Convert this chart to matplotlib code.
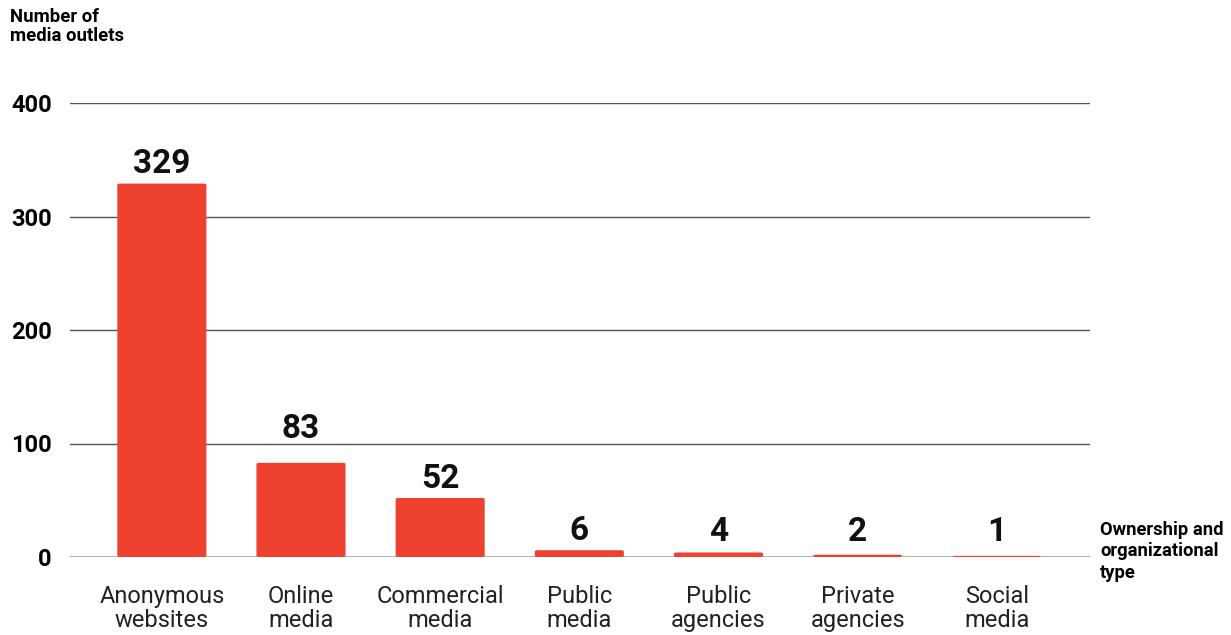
import matplotlib
matplotlib.use("Agg")
import matplotlib.pyplot as plt
from matplotlib.patches import FancyBboxPatch

plt.rcParams["font.family"] = ["Roboto", "DejaVu Sans"]

categorias = ["Anonymous\nwebsites", "Online\nmedia", "Commercial\nmedia", "Public\nmedia",
              "Public\nagencies", "Private\nagencies", "Social\nmedia"]
valores = [329, 83, 52, 6, 4, 2, 1]
yticks = [0, 100, 200, 300, 400]

ROJO = "#ee4130"

fig = plt.figure(figsize=(12.31, 6.35), dpi=100)
ax = fig.add_axes([70 / 1231, 78 / 635, 1020 / 1231, 454 / 635])

ancho = 0.64
x = list(range(len(categorias)))
for xi, v in zip(x, valores):
    # barras con esquinas levemente redondeadas
    ax.add_patch(FancyBboxPatch((xi - ancho / 2, 0), ancho, v,
                                boxstyle="round,pad=0,rounding_size=0.02",
                                mutation_aspect=60, fc=ROJO, ec="none", zorder=3))
    # etiqueta sobre la barra; si queda pisando una linea de la grilla, va arriba de ella
    y_lab = max(v + 3, 8)
    for t in yticks[1:]:
        if v < t < y_lab + 22:
            y_lab = t - 1
    ax.text(xi, y_lab, str(v), ha="center", va="bottom", fontsize=24,
            fontweight="bold", color="#111111", zorder=4)

ax.set_xlim(-0.66, 6.67)
ax.set_ylim(0, 400)
for t in yticks[1:]:
    ax.axhline(t, color="#555555", lw=1.0, zorder=1)
ax.axhline(0, color="#aaaaaa", lw=2.0, zorder=2)

ax.set_yticks(yticks)
ax.set_yticklabels([str(t) for t in yticks], fontsize=17, fontweight="bold")
ax.set_xticks(x)
ax.set_xticklabels(categorias, fontsize=17, color="#222222", linespacing=1.06)
ax.tick_params(axis="both", length=0)
ax.tick_params(axis="y", pad=13)
ax.tick_params(axis="x", pad=20)
for s in ax.spines.values():
    s.set_visible(False)

fig.text(10 / 1231, 1 - 8 / 635, "Number of\nmedia outlets", ha="left", va="top",
         fontsize=13.3, fontweight="bold", linespacing=1.1)
fig.text(1100 / 1231, 1 - 521 / 635, "Ownership and\norganizational\ntype", ha="left",
         va="top", fontsize=13.2, fontweight="bold", linespacing=1.25)

fig.savefig("out.png", dpi=100)
